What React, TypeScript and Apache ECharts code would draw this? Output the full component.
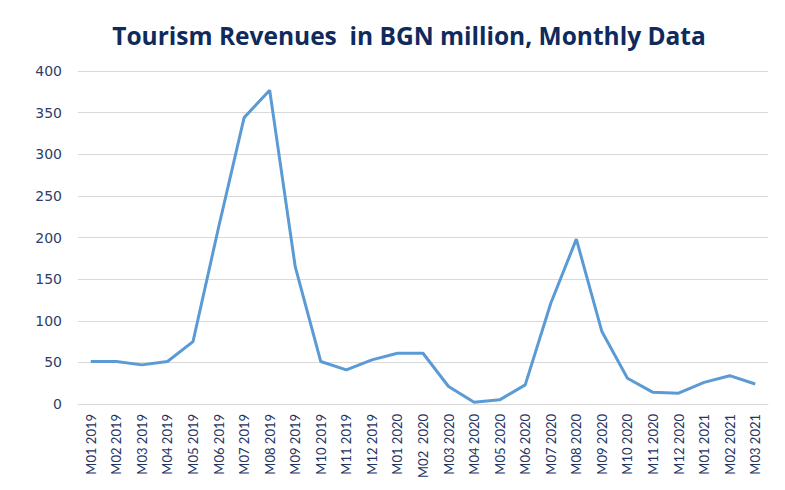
import React, { useEffect, useRef } from "react";
import * as echarts from "echarts";

const categories = [
  "M01 2019", "M02 2019", "M03 2019", "M04 2019", "M05 2019", "M06 2019",
  "M07 2019", "M08 2019", "M09 2019", "M10 2019", "M11 2019", "M12 2019",
  "M01 2020", "M02  2020", "M03 2020", "M04 2020", "M05 2020", "M06 2020",
  "M07 2020", "M08 2020", "M09 2020", "M10 2020", "M11 2020", "M12 2020",
  "M01 2021", "M02 2021", "M03 2021",
];

const revenues = [
  51, 51, 47, 51, 75, 212, 344, 377, 165, 51, 41, 53,
  61, 61, 21, 2, 5, 23, 121, 198, 87, 31, 14, 13,
  26, 34, 24,
];

const yTicks = { min: 0, max: 400, interval: 50 };

const titleText = "Tourism Revenues  in BGN million, Monthly Data";

export default function App() {
  const ref = useRef<HTMLDivElement>(null);
  useEffect(() => {
    if (!ref.current) return;
    const chart = echarts.init(ref.current, null, { renderer: "svg" });
    chart.setOption({
      animation: false,
      backgroundColor: "#ffffff",
      title: {
        text: titleText,
        left: 404,
        textAlign: "center",
        top: 18,
        textStyle: {
          fontFamily: "Open Sans",
          fontWeight: "bold",
          fontSize: 24.5,
          color: "#0f2a5c",
        },
      },
      grid: { left: 78, right: 17, top: 71, bottom: 86, containLabel: false },
      xAxis: {
        type: "category",
        data: categories,
        boundaryGap: true,
        axisLine: { show: true, lineStyle: { color: "#d9d9d9", width: 1 } },
        axisTick: { show: false },
        axisLabel: {
          rotate: 90,
          interval: 0,
          margin: 10,
          fontFamily: "Lato",
          fontSize: 13,
          color: "#1f3564",
        },
        splitLine: { show: false },
      },
      yAxis: {
        type: "value",
        min: yTicks.min,
        max: yTicks.max,
        interval: yTicks.interval,
        axisLine: { show: false },
        axisTick: { show: false },
        axisLabel: {
          margin: 16,
          fontFamily: "DejaVu Sans",
          fontSize: 14,
          color: "#2c3e6b",
        },
        splitLine: { show: true, lineStyle: { color: "#d9d9d9", width: 1 } },
      },
      series: [
        {
          type: "line",
          data: revenues,
          symbol: "none",
          lineStyle: { color: "#5b9bd5", width: 3 },
          itemStyle: { color: "#5b9bd5" },
        },
      ],
    });
    return () => chart.dispose();
  }, []);
  return (
    <div
      ref={ref}
      style={{ position: "absolute", left: 0, top: 0, width: 785, height: 490 }}
    />
  );
}
